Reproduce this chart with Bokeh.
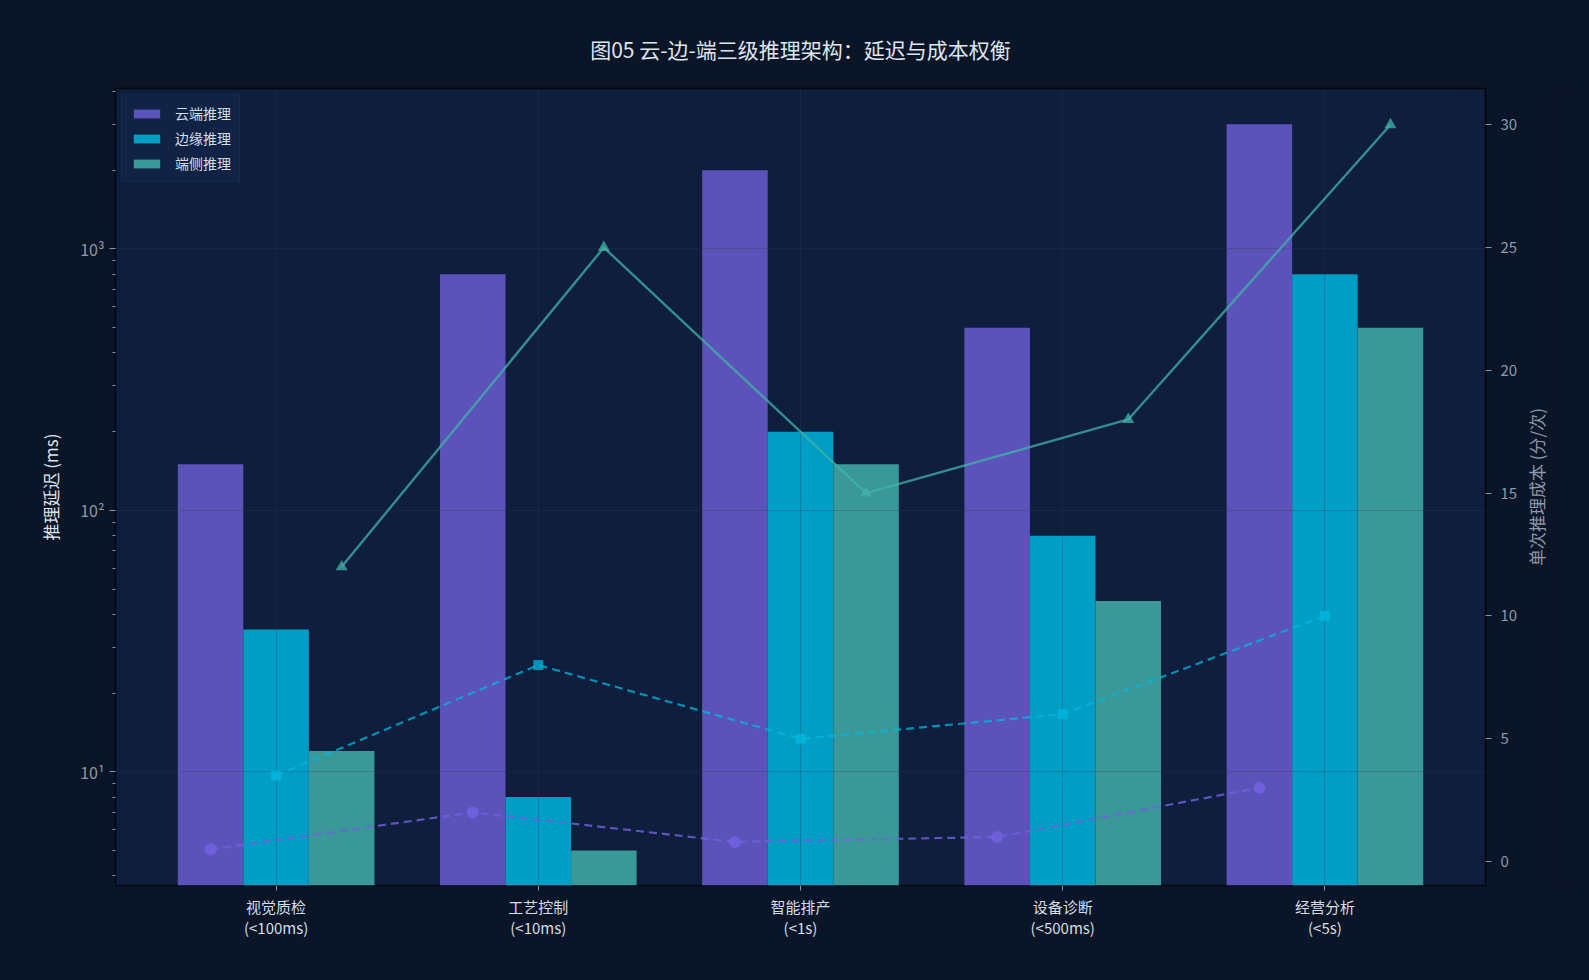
import numpy as np

from bokeh.plotting import figure
from bokeh.layouts import row
from bokeh.models import (Range1d, LinearAxis, LinearScale, FixedTicker, Legend, LegendItem)
from bokeh.embed import file_html
from bokeh.resources import INLINE

FONT = "Noto Sans CJK SC"
BG = "#0a1527"

# 数据
scenes = ["视觉质检\n(<100ms)", "工艺控制\n(<10ms)", "智能排产\n(<1s)",
          "设备诊断\n(<500ms)", "经营分析\n(<5s)"]
tiers = ["云端推理", "边缘推理", "端侧推理"]
latency_cloud = [150, 800, 2000, 500, 3000]
latency_edge = [35, 8, 200, 80, 800]
latency_device = [12, 5, 150, 45, 500]
cost_cloud = [0.5, 2, 0.8, 1, 3]
cost_edge = [3.5, 8, 5, 6, 10]
cost_device = [12, 25, 15, 18, 30]

colors = ["#5b53b9", "#009dc4", "#3a9898"]
line_colors = ["#7262e0", "#00b8e0", "#42b3aa"]

x = np.arange(len(scenes))
w = 0.25

p = figure(width=1520, height=964, y_axis_type="log",
           x_range=Range1d(-0.6125, 4.6125), y_range=Range1d(3.67, 4110),
           output_backend="svg", toolbar_location=None,
           min_border_left=115, min_border_right=34,
           min_border_top=88, min_border_bottom=79)

p.background_fill_color = "#0e1e3c"
p.border_fill_color = BG
p.outline_line_color = "#02070f"
p.outline_line_width = 1.5

p.title.text = "图05 云-边-端三级推理架构：延迟与成本权衡"
p.title.align = "center"
p.title.text_font = FONT
p.title.text_font_size = "21px"
p.title.text_font_style = "normal"
p.title.text_color = "#dfe5ee"
p.title.offset = 0
p.title.standoff = 50

p.extra_y_ranges = {"cost": Range1d(-0.975, 31.475)}
p.extra_y_scales = {"cost": LinearScale()}

bars = []
for i, vals in enumerate([latency_cloud, latency_edge, latency_device]):
    r = p.vbar(x=x + (i - 1) * w, top=vals, bottom=1, width=w,
               fill_color=colors[i], line_color=None, level="image")
    bars.append(r)

p.line(x - w, cost_cloud, y_range_name="cost", line_color=line_colors[0],
       line_width=2.2, line_dash="8 5", line_alpha=0.8)
p.scatter(x - w, cost_cloud, y_range_name="cost", marker="circle", size=12,
          fill_color=line_colors[0], line_color=None, fill_alpha=0.85)

p.line(x, cost_edge, y_range_name="cost", line_color=line_colors[1],
       line_width=2.2, line_dash="8 5", line_alpha=0.75)
p.scatter(x, cost_edge, y_range_name="cost", marker="square", size=10,
          fill_color=line_colors[1], line_color=None, fill_alpha=0.75)

p.line(x + w, cost_device, y_range_name="cost", line_color=line_colors[2],
       line_width=2.4, line_alpha=0.75)
p.scatter(x + w, cost_device, y_range_name="cost", marker="triangle", size=12,
          fill_color=line_colors[2], line_color=None, fill_alpha=0.75)

# 坐标轴
xa = p.xaxis[0]
xa.ticker = FixedTicker(ticks=list(x))
xa.major_label_overrides = {int(i): s for i, s in zip(x, scenes)}
xa.major_label_text_font = FONT
xa.major_label_text_font_size = "15px"
xa.major_label_text_color = "#d6dde6"
xa.major_label_text_line_height = 1.0
xa.axis_line_color = None
xa.major_tick_line_color = "#8a96a8"
xa.major_tick_out = 5
xa.major_tick_in = 0
xa.minor_tick_line_color = None

ya = p.yaxis[0]
minor = [m * 10 ** e for e in range(0, 4) for m in range(2, 10)]
ya.ticker = FixedTicker(ticks=[10, 100, 1000], minor_ticks=minor)
ya.major_label_overrides = {10: "10¹", 100: "10²", 1000: "10³"}
ya.major_label_text_font = FONT
ya.major_label_text_font_size = "16px"
ya.major_label_text_color = "#8d99ab"
ya.axis_label = "推理延迟 (ms)"
ya.axis_label_text_font = FONT
ya.axis_label_text_font_size = "17px"
ya.axis_label_text_font_style = "normal"
ya.axis_label_text_color = "#dfe5ee"
ya.axis_label_standoff = 14
ya.axis_line_color = None
ya.major_tick_line_color = "#8a96a8"
ya.major_tick_out = 6
ya.major_tick_in = 0
ya.minor_tick_line_color = "#8a96a8"
ya.minor_tick_out = 3
ya.minor_tick_in = 0

ra = LinearAxis(y_range_name="cost", ticker=FixedTicker(ticks=[0, 5, 10, 15, 20, 25, 30]))
ra.major_label_text_font = FONT
ra.major_label_text_font_size = "15px"
ra.major_label_text_color = "#8d99ab"
ra.major_label_standoff = 9
ra.axis_line_color = None
ra.major_tick_line_color = "#8a96a8"
ra.major_tick_out = 6
ra.major_tick_in = 0
ra.minor_tick_line_color = None
p.add_layout(ra, "right")

for g in (p.xgrid[0], p.ygrid[0]):
    g.grid_line_color = "#2b3d60"
    g.grid_line_alpha = 0.3
    g.grid_line_width = 1
p.ygrid[0].ticker = FixedTicker(ticks=[10, 100, 1000])

legend = Legend(items=[LegendItem(label=t, renderers=[r]) for t, r in zip(tiers, bars)],
                location="top_left")
legend.label_text_font = FONT
legend.label_text_font_size = "14px"
legend.label_text_color = "#d6dde6"
legend.background_fill_color = "#112445"
legend.background_fill_alpha = 0.9
legend.border_line_color = "#1f3357"
legend.border_line_width = 1
legend.glyph_width = 33
legend.glyph_height = 11
legend.spacing = 5
legend.padding = 8
legend.margin = 6
legend.label_standoff = 12
legend.label_height = 20
p.add_layout(legend)

# 右侧轴标题：单独一条窄画布，文字自下而上
side = figure(width=53, height=964, x_range=Range1d(0, 1), y_range=Range1d(0, 1),
              x_axis_location=None, y_axis_location=None, tools="",
              output_backend="svg", toolbar_location=None,
              min_border_left=0, min_border_right=0,
              min_border_top=88, min_border_bottom=79)
side.background_fill_color = BG
side.background_fill_alpha = 0
side.border_fill_color = BG
side.outline_line_color = None
side.outline_line_alpha = 0
for g in side.grid:
    g.grid_line_color = None
la = LinearAxis(ticker=FixedTicker(ticks=[]))
la.axis_label = "单次推理成本 (分/次)"
la.axis_label_text_font = FONT
la.axis_label_text_font_size = "17px"
la.axis_label_text_font_style = "normal"
la.axis_label_text_color = "#8d99ab"
la.axis_label_standoff = 6
la.axis_line_color = None
la.major_tick_line_color = None
la.minor_tick_line_color = None
la.major_label_text_font_size = "0px"
side.add_layout(la, "left")

html = file_html(row(p, side, spacing=0), INLINE)
html = html.replace("<head>", "<head><style>body{background:%s;}</style>" % BG, 1)
open("out.html", "w").write(html)
